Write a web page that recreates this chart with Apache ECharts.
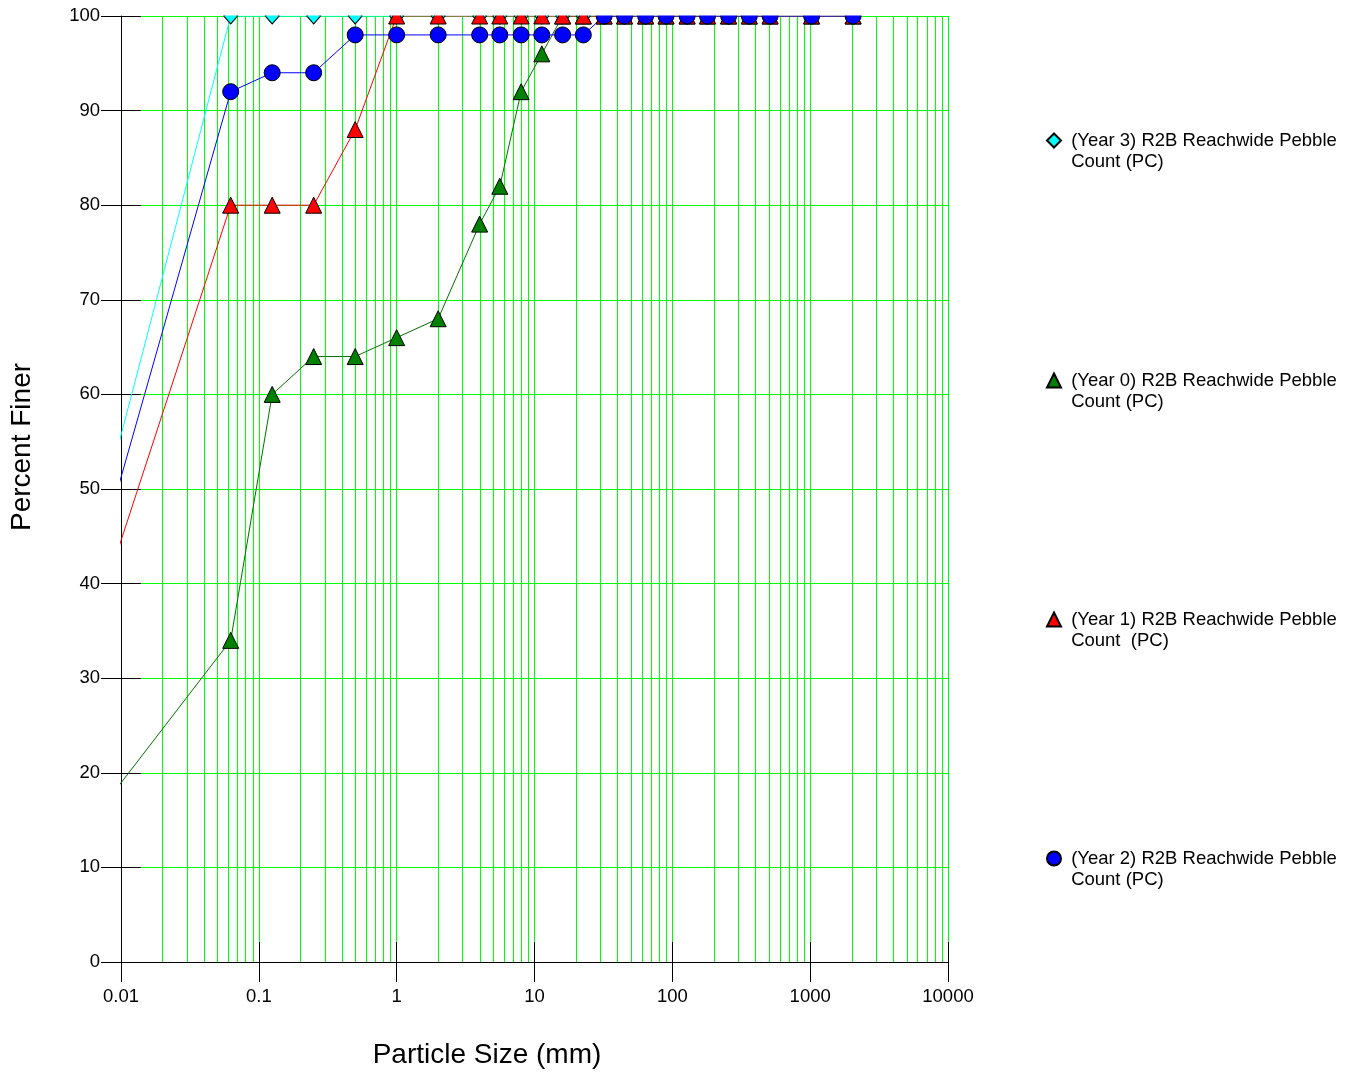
<!DOCTYPE html>
<html><head><meta charset="utf-8">
<script src="https://cdn.jsdelivr.net/npm/echarts@6/dist/echarts.min.js"></script>
<style>html,body{margin:0;padding:0;background:#fff}#c{width:1351px;height:1074px}</style>
</head><body><div id="c"></div>
<script>
// Particle sizes (mm); first point lies off the left edge of the plot (lines are clipped)
const sizes = [0.001, 0.0625, 0.125, 0.25, 0.5, 1, 2, 4, 5.6, 8, 11.3, 16, 22.6, 32, 45, 64, 90, 128, 180, 256, 362, 512, 1024, 2048];
const year3 = [0, 100, 100, 100, 100, 100, 100, 100, 100, 100, 100, 100, 100, 100, 100, 100, 100, 100, 100, 100, 100, 100, 100, 100];
const year0 = [0, 34, 60, 64, 64, 66, 68, 78, 82, 92, 96, 100, 100, 100, 100, 100, 100, 100, 100, 100, 100, 100, 100, 100];
const year1 = [0, 80, 80, 80, 88, 100, 100, 100, 100, 100, 100, 100, 100, 100, 100, 100, 100, 100, 100, 100, 100, 100, 100, 100];
const year2 = [0, 92, 94, 94, 98, 98, 98, 98, 98, 98, 98, 98, 98, 100, 100, 100, 100, 100, 100, 100, 100, 100, 100, 100];
const seriesNames = [
  '(Year 3) R2B Reachwide Pebble\nCount (PC)',
  '(Year 0) R2B Reachwide Pebble\nCount (PC)',
  '(Year 1) R2B Reachwide Pebble\nCount  (PC)',
  '(Year 2) R2B Reachwide Pebble\nCount (PC)'
];
const decades = [0.01, 0.1, 1, 10, 100, 1000];
const minorMultipliers = [2, 3, 4, 5, 6, 7, 8, 9];

const FONT = 'Liberation Sans, Arial, Helvetica, sans-serif';
const minorVals = [];
decades.forEach(d => minorMultipliers.forEach(m => minorVals.push([d * m])));
const pair = arr => sizes.map((s, i) => [s, arr[i]]);

const chart = echarts.init(document.getElementById('c'), null, {renderer: 'canvas'});

function mkSeries(name, data, color, lineColor, symbol, size) {
  return {
    name, type: 'line', data: pair(data), symbol, symbolSize: size,
    showSymbol: true, showAllSymbol: true, clip: true, z: 3,
    lineStyle: {color: lineColor, width: 1},
    itemStyle: {color: color, borderColor: '#000', borderWidth: 1, opacity: 1},
    emphasis: {disabled: true}
  };
}

const legendCenters = [141, 381, 620, 859];
const legendSymbols = ['diamond', 'triangle', 'triangle', 'circle'];

const option = {
  animation: false,
  backgroundColor: '#fff',
  grid: {left: 121, top: 16, right: 403, bottom: 112, containLabel: false},
  xAxis: [{
    type: 'log', logBase: 10, min: 0.01, max: 10000, splitNumber: 6, position: 'bottom',
    axisLine: {show: true, lineStyle: {color: '#000', width: 1}},
    axisTick: {show: true, inside: false, length: 20, lineStyle: {color: '#000'}},
    axisLabel: {show: true, margin: 25, fontSize: 18.5, fontFamily: FONT, color: '#000',
      formatter: v => String(+v.toPrecision(6))},
    splitLine: {show: true, lineStyle: {color: '#00ff00', width: 1}},
    minorTick: {show: false}
  }, {
    type: 'log', logBase: 10, min: 0.01, max: 10000, splitNumber: 6, position: 'bottom',
    axisLine: {show: false},
    axisTick: {show: true, inside: true, length: 20, lineStyle: {color: '#000'}},
    axisLabel: {show: false},
    splitLine: {show: false}
  }],
  yAxis: [{
    type: 'value', min: 0, max: 100, interval: 10, position: 'left',
    axisLine: {show: true, lineStyle: {color: '#000', width: 1}},
    axisTick: {show: true, inside: false, length: 20, lineStyle: {color: '#000'}},
    axisLabel: {show: true, margin: 21, fontSize: 18.5, fontFamily: FONT, color: '#000'},
    splitLine: {show: true, lineStyle: {color: '#00ff00', width: 1}}
  }, {
    type: 'value', min: 0, max: 100, interval: 10, position: 'left',
    axisLine: {show: false},
    axisTick: {show: true, inside: true, length: 20, lineStyle: {color: '#000'}},
    axisLabel: {show: false},
    splitLine: {show: false}
  }],
  legend: seriesNames.map((n, i) => ({
    data: [{name: n, icon: legendSymbols[i]}],
    left: 1046, top: legendCenters[i] - 32, padding: 0, orient: 'vertical',
    itemWidth: 14, itemHeight: 14, selectedMode: false,
    formatter: name => ' \n ' + name.split('\n').join('\n '),
    textStyle: {fontSize: 18.5, lineHeight: 21, fontFamily: FONT, color: '#000'}
  })),
  graphic: [
    {type: 'rect', z: 100, silent: true, shape: {x: 122, y: 0, width: 840, height: 15.5}, style: {fill: '#fff'}},
    {type: 'text', z: 101, x: 487, y: 1055, style: {text: 'Particle Size (mm)', fontSize: 28, fontFamily: FONT, fill: '#000', align: 'center', verticalAlign: 'middle'}},
    {type: 'text', z: 101, x: 22, y: 447, rotation: Math.PI / 2, style: {text: 'Percent Finer', fontSize: 28, fontFamily: FONT, fill: '#000', align: 'center', verticalAlign: 'middle'}}
  ],
  series: [
    {
      type: 'custom', z: 1, silent: true, xAxisIndex: 0, yAxisIndex: 0,
      data: minorVals, encode: {x: 0},
      renderItem: (params, api) => {
        const v = api.value(0);
        const p0 = api.coord([v, 0]);
        const p1 = api.coord([v, 100]);
        const x = Math.round(p0[0]) + 0.5;
        return {type: 'line', shape: {x1: x, y1: p0[1], x2: x, y2: p1[1]},
          style: {stroke: '#00ff00', lineWidth: 1}};
      }
    },
    mkSeries(seriesNames[0], year3, '#00ffff', '#00ffff', 'diamond', [14, 16]),
    mkSeries(seriesNames[1], year0, '#008000', '#007000', 'triangle', [16, 16]),
    mkSeries(seriesNames[2], year1, '#ff0000', '#ff0000', 'triangle', [16, 16]),
    mkSeries(seriesNames[3], year2, '#0000ff', '#0000ff', 'circle', 16)
  ]
};
chart.setOption(option);
</script>
</body></html>
